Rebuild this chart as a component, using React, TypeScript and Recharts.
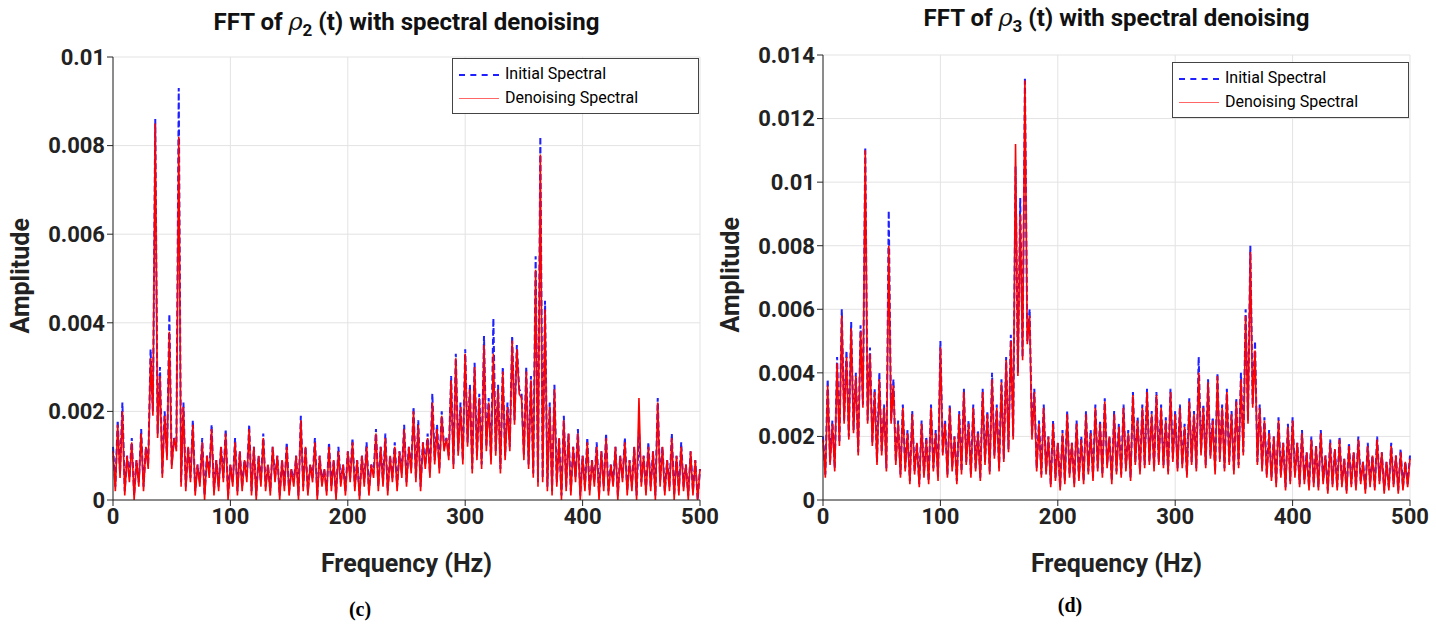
import { LineChart, Line, XAxis, YAxis, CartesianGrid } from "recharts";

// Left panel (c): amplitude x1e-4, sampled every 4 Hz (peaks) with troughs between
const freqs = Array.from({ length: 126 }, (_, i) => i * 4);
const c2Initial = [12,18,22,10,14,9,16,12,34,86,30,20,42,14,93,22,12,18,8,14,10,17,9,12,16,8,14,11,9,17,12,10,15,8,12,10,9,13,7,10,19,12,8,14,10,7,13,9,12,8,11,14,9,10,13,8,16,12,15,10,13,11,17,12,21,18,13,15,24,17,20,14,28,33,22,34,26,31,24,37,23,41,26,30,22,37,35,24,30,28,55,82,45,22,26,14,19,15,12,16,10,14,9,13,11,15,8,12,10,14,9,12,16,10,13,11,23,12,9,15,10,13,8,11,9,7];
const c2Denoised = [11,17,20,10,13,9,15,12,32,85,28,19,38,14,82,21,12,17,8,13,10,16,9,12,15,8,13,11,9,16,12,10,14,8,12,10,9,12,7,10,18,12,8,13,10,7,12,9,11,8,11,13,9,10,12,8,15,12,14,10,12,11,16,12,20,17,13,14,22,16,19,14,27,32,21,33,25,30,23,35,22,33,25,29,21,36,34,23,29,27,52,78,43,21,25,14,18,15,12,15,10,13,9,12,11,14,8,12,10,13,9,12,23,10,12,11,22,12,9,14,10,12,8,11,9,7];
const c2Troughs = [3,6,2,5,1,4,3,8,20,15,6,10,8,12,4,3,5,2,4,1,6,2,3,5,1,4,2,3,5,2,1,4,3,2,5,1,3,2,4,1,3,2,5,1,4,2,3,1,4,2,5,3,1,4,2,6,3,4,2,5,3,6,4,7,5,3,8,6,9,7,12,10,8,11,9,13,7,10,8,12,9,11,7,10,12,18,25,10,8,6,4,5,3,2,4,1,3,2,5,1,3,2,4,1,3,2,4,1,5,2,3,1,4,2,3,1,4,2,3,1,2,3,1,2,0];

// Right panel (d)
const d3Initial = [20,38,25,45,60,47,56,40,55,111,48,35,40,30,91,38,25,30,22,28,18,25,20,30,22,50,25,30,20,28,35,25,30,22,35,28,40,30,38,45,52,105,95,133,60,35,25,30,20,25,18,22,28,18,25,20,28,22,30,25,32,20,28,24,30,22,34,26,30,35,28,34,30,26,35,28,30,24,32,28,45,30,38,26,40,30,35,28,32,40,60,80,50,30,26,22,20,26,18,24,26,18,22,15,20,17,22,14,19,16,20,13,18,15,20,12,18,14,20,15,12,18,14,16,12,14];
const d3Denoised = [19,36,24,43,58,45,54,39,53,110,46,34,38,29,80,36,24,29,21,27,18,24,19,29,21,48,24,29,20,27,34,24,29,21,34,27,38,29,37,44,50,112,90,132,58,34,24,29,20,24,18,21,27,18,24,19,27,21,29,24,31,20,27,23,29,21,33,25,29,34,27,33,29,25,34,27,29,23,31,27,40,29,37,25,39,29,34,27,31,38,58,78,47,29,25,21,20,25,18,23,25,18,21,15,19,17,21,14,18,16,19,13,17,15,19,12,17,14,19,15,12,17,14,15,12,13];
const d3Troughs = [8,12,10,18,25,20,22,15,30,25,18,12,15,10,25,12,8,10,6,9,5,8,6,10,7,15,8,10,6,9,12,8,10,7,12,9,14,10,13,16,20,40,45,50,20,10,8,9,5,7,4,6,8,5,7,6,9,7,10,8,11,6,9,8,10,7,12,9,11,12,10,12,11,9,13,10,11,8,12,10,15,11,14,9,13,10,12,9,11,15,25,30,12,10,8,7,5,8,4,6,8,5,6,4,5,4,6,3,5,4,5,3,5,4,6,3,5,4,6,3,4,5,3,4,5];

const xTicks = [0, 100, 200, 300, 400, 500];
const cTicks = [0, 0.002, 0.004, 0.006, 0.008, 0.01];
const dTicks = [0, 0.002, 0.004, 0.006, 0.008, 0.01, 0.012, 0.014];

function buildRows(a: number[], b: number[], tr: number[]) {
  const rows: { f: number; init: number; den: number }[] = [];
  freqs.forEach((f, i) => {
    rows.push({ f, init: a[i] / 1e4, den: b[i] / 1e4 });
    if (i < freqs.length - 1) {
      const t = tr[i] ?? 0;
      rows.push({ f: f + 2, init: t / 1e4, den: Math.max(0, t - 1) / 1e4 });
    }
  });
  return rows;
}

const font = "Roboto, 'DejaVu Sans', sans-serif";
const tickStyle = { fontSize: 22, fontWeight: 700, fill: "#222", fontFamily: font };
const labelStyle = { fontSize: 25, fontWeight: 700, fill: "#222", fontFamily: font };

function fmt(v: number) {
  return v === 0 ? "0" : String(parseFloat(v.toFixed(3)));
}

function Panel(props: {
  left: number; plotTop: number; data: any[]; ticks: number[]; ymax: number;
  sub: string; titleY: number; legendTop: number; legendLeft: number; caption: string; captionY: number;
}) {
  const { left, plotTop, data, ticks, ymax } = props;
  return (
    <div style={{ position: "absolute", left, top: 0, width: 720, height: 635 }}>
      <div style={{ position: "absolute", left: 113, width: 587, top: props.titleY, textAlign: "center", fontFamily: font, fontWeight: 700, fontSize: 24, color: "#111" }}>
        FFT of <span style={{ fontFamily: "'DejaVu Serif', serif", fontStyle: "italic", fontWeight: 400 }}>ρ</span>
        <sub style={{ fontSize: 17 }}>{props.sub}</sub> (t) with spectral denoising
      </div>
      <LineChart width={720} height={600} data={data} margin={{ top: plotTop, right: 20, left: 40, bottom: 70 }}>
        <CartesianGrid stroke="#e3e3e3" />
        <XAxis dataKey="f" type="number" domain={[0, 500]} ticks={xTicks} tick={tickStyle} stroke="#262626" height={30}
          label={{ value: "Frequency (Hz)", position: "insideBottom", offset: -42, style: labelStyle }} />
        <XAxis xAxisId="top" orientation="top" dataKey="f" type="number" domain={[0, 500]} ticks={xTicks} tick={false} stroke="#262626" height={0} />
        <YAxis type="number" domain={[0, ymax]} ticks={ticks} tickFormatter={fmt} tick={tickStyle} stroke="#262626" width={73}
          label={{ value: "Amplitude", angle: -90, position: "insideLeft", offset: -20, dy: 55, style: labelStyle }} />
        <YAxis yAxisId="r" orientation="right" domain={[0, ymax]} ticks={ticks} tick={false} stroke="#262626" width={0} />
        <Line dataKey="init" stroke="#1f1fff" strokeWidth={2} strokeDasharray="6 3" dot={false} isAnimationActive={false} type="linear" />
        <Line dataKey="den" stroke="#ff0000" strokeWidth={1.6} dot={false} isAnimationActive={false} type="linear" />
      </LineChart>
      <div style={{ position: "absolute", left: props.legendLeft, top: props.legendTop, width: 700 - props.legendLeft - 3, border: "1px solid #444", background: "#fff", fontFamily: font, fontSize: 16, padding: "3px 0", lineHeight: "24px" }}>
        <div><span style={{ display: "inline-block", width: 40, margin: "0 6px", borderTop: "2px dashed #1f1fff", verticalAlign: "middle" }} />Initial Spectral</div>
        <div><span style={{ display: "inline-block", width: 40, margin: "0 6px", borderTop: "1.5px solid #ff6666", verticalAlign: "middle" }} />Denoising Spectral</div>
      </div>
      <div style={{ position: "absolute", left: 0, width: 720, top: props.captionY, textAlign: "center", fontFamily: "'Liberation Serif', serif", fontSize: 20, fontWeight: 700 }}>
        {props.caption}
      </div>
    </div>
  );
}

export default function App() {
  return (
    <div style={{ position: "fixed", left: 0, top: 0, width: 1436, height: 635, background: "#fff" }}>
      <Panel left={0} plotTop={57} data={buildRows(c2Initial, c2Denoised, c2Troughs)} ticks={cTicks} ymax={0.01}
        sub="2" titleY={8} legendLeft={452} legendTop={58} caption="(c)" captionY={598} />
      <Panel left={710} plotTop={55} data={buildRows(d3Initial, d3Denoised, d3Troughs)} ticks={dTicks} ymax={0.014}
        sub="3" titleY={4} legendLeft={462} legendTop={62} caption="(d)" captionY={594} />
    </div>
  );
}
